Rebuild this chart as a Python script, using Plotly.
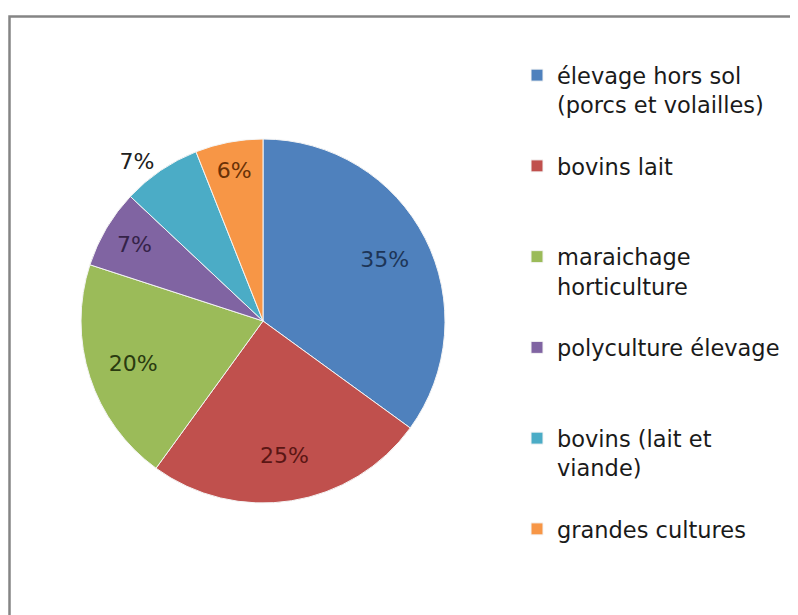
import plotly.graph_objects as go

categories = [
    "élevage hors sol (porcs et volailles)",
    "bovins lait",
    "maraichage horticulture",
    "polyculture élevage",
    "bovins (lait et viande)",
    "grandes cultures",
]
legend_lines = [
    ["élevage hors sol", "(porcs et volailles)"],
    ["bovins lait"],
    ["maraichage", "horticulture"],
    ["polyculture élevage"],
    ["bovins (lait et", "viande)"],
    ["grandes cultures"],
]
values = [35, 25, 20, 7, 7, 6]
colors = ["#4F81BD", "#C0504D", "#9BBB59", "#8064A2", "#4BACC6", "#F79646"]
label_colors = ["#1D3557", "#5A1614", "#2A3A10", "#352348", "#202020", "#6A3206"]
text_positions = ["inside", "inside", "inside", "inside", "outside", "inside"]

# pad each legend entry to three lines so entries are evenly spaced
legend_text = ["<br>".join(l + [" "] * (3 - len(l))) for l in legend_lines]

FONT = "DejaVu Sans"
domain = dict(x=[73 / 798, 437 / 798], y=[(615 - 495) / 615, (615 - 131) / 615])

# coloured pie (no text)
pie = go.Pie(
    labels=legend_text,
    values=values,
    sort=False,
    direction="clockwise",
    rotation=0,
    marker=dict(colors=colors, line=dict(color="#F4F4F4", width=1)),
    textinfo="none",
    hoverinfo="none",
    domain=domain,
)
# transparent ring carrying the percentage labels (places them at ~3/4 radius)
labels_ring = go.Pie(
    labels=legend_text,
    values=values,
    sort=False,
    direction="clockwise",
    rotation=0,
    hole=0.5,
    marker=dict(colors=["rgba(0,0,0,0)"] * len(values), line=dict(width=0)),
    texttemplate="%{percent:.0%}",
    textposition=text_positions,
    insidetextorientation="horizontal",
    insidetextfont=dict(family=FONT, size=22, color=label_colors),
    outsidetextfont=dict(family=FONT, size=22, color="#202020"),
    hoverinfo="none",
    showlegend=False,
    domain=domain,
)

fig = go.Figure([pie, labels_ring])

fig.update_layout(
    width=798,
    height=615,
    margin=dict(l=0, r=0, t=0, b=0),
    paper_bgcolor="white",
    plot_bgcolor="white",
    showlegend=True,
    legend=dict(
        x=509 / 798,
        xanchor="left",
        y=(615 - 46) / 615,
        yanchor="top",
        valign="top",
        font=dict(family=FONT, size=22.5, color="#1a1a1a"),
        bgcolor="rgba(0,0,0,0)",
    ),
    shapes=[
        dict(
            type="rect",
            xref="paper",
            yref="paper",
            x0=1.5 / 798,
            x1=1.1,
            y0=-0.1,
            y1=(615 - 8.5) / 615,
            line=dict(color="#858585", width=2.5),
            fillcolor="rgba(0,0,0,0)",
        )
    ],
)

fig.write_html("out.html")
